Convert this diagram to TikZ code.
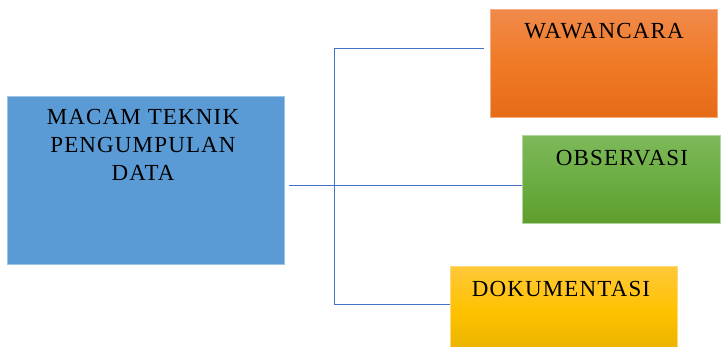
\documentclass[tikz,border=0pt]{standalone}
\usepackage{fontspec}
\setmainfont{Liberation Serif}
\newfontfamily\boxfont[LetterSpace=5]{Liberation Serif}
\definecolor{bluebox}{HTML}{5B9BD5}
\definecolor{bluebord}{HTML}{9DC3E6}
\definecolor{orangetop}{HTML}{F08A4B}
\definecolor{orangemid}{HTML}{F07A25}
\definecolor{orangebot}{HTML}{E56B17}
\definecolor{greentop}{HTML}{7DB95A}
\definecolor{greenmid}{HTML}{6CAD43}
\definecolor{greenbot}{HTML}{5E9E2E}
\definecolor{yellowtop}{HTML}{FFC83A}
\definecolor{yellowmid}{HTML}{FFC200}
\definecolor{yellowbot}{HTML}{E6B000}
\definecolor{linkblue}{HTML}{4472C4}
\tikzset{
  boxbase/.style={rectangle, inner sep=0pt, anchor=north west},
  txt/.style={inner sep=0pt, anchor=north, align=center, font=\boxfont\fontsize{23}{28}\selectfont, text=black},
  link/.style={draw=linkblue, line width=1pt},
}
\begin{document}
\begin{tikzpicture}[x=1pt,y=-1pt]
\useasboundingbox (0,0) rectangle (721,347);
% boxes
\node[boxbase, minimum width=277pt, minimum height=168pt, fill=bluebox, draw=bluebord, line width=0.6pt] (blue) at (7,96) {};
\node[boxbase, minimum width=227pt, minimum height=108pt, top color=orangetop, bottom color=orangebot, middle color=orangemid, draw=orangetop!70!white, line width=0.6pt] (wa) at (490,9) {};
\node[boxbase, minimum width=198pt, minimum height=88pt, top color=greentop, bottom color=greenbot, middle color=greenmid, draw=greentop!60!white, line width=0.6pt] (obs) at (522,135) {};
\node[boxbase, minimum width=227pt, minimum height=90pt, top color=yellowtop, bottom color=yellowbot, middle color=yellowmid, draw=yellowtop!70!white, line width=0.6pt] (dok) at (450,266) {};
% texts
\node[txt] (tblue) at (143,109) {MACAM TEKNIK\\PENGUMPULAN\\DATA};
\node[txt] (twa) at (604,23) {WAWANCARA};
\node[txt] (tobs) at (622,150) {OBSERVASI};
\node[txt] (tdok) at (561,281) {DOKUMENTASI};
% connectors
\coordinate (jmid) at (334,186);
\coordinate (jtop) at (334,49);
\coordinate (jbot) at (334,305);
\draw[link] ([xshift=4pt]blue.east |- jmid) -- (obs.west |- jmid);
\draw[link] ([xshift=-6pt]wa.west |- jtop) -- (jtop) -- (jbot) -- (dok.west |- jbot);
\end{tikzpicture}
\end{document}
